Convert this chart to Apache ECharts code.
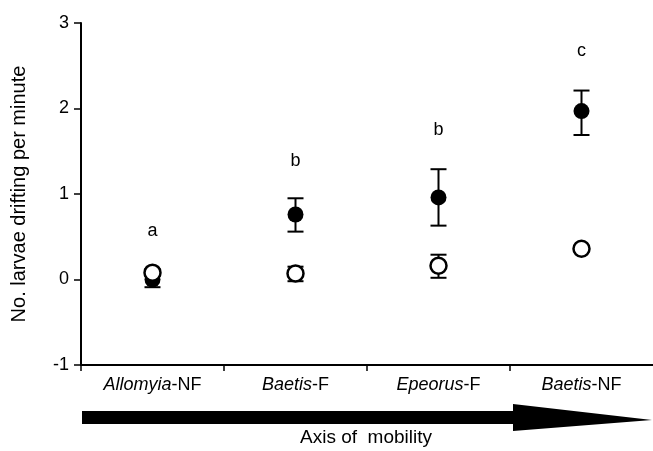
<!DOCTYPE html>
<html>
<head>
<meta charset="utf-8">
<script src="https://cdn.jsdelivr.net/npm/echarts@6/dist/echarts.min.js"></script>
<style>html,body{margin:0;padding:0;background:#fff;}#c{width:653px;height:451px;}</style>
</head>
<body>
<div id="c"></div>
<script>
const categories = ['Allomyia-NF', 'Baetis-F', 'Epeorus-F', 'Baetis-NF'];
const filledMean = [0.0, 0.76, 0.96, 1.97];
const filledLow = [-0.09, 0.56, 0.63, 1.69];
const filledHigh = [0.07, 0.95, 1.29, 2.21];
const openMean = [0.08, 0.07, 0.16, 0.36];
const openLow = [0.04, -0.02, 0.02, 0.33];
const openHigh = [0.12, 0.15, 0.29, 0.39];
const letters = ['a', 'b', 'b', 'c'];
const letterY = [0.57, 1.39, 1.75, 2.67];
const yMin = -1, yMax = 3, yStep = 1;

const FONT = '"Liberation Sans", Arial, sans-serif';
const chart = echarts.init(document.getElementById('c'), null, {renderer: 'canvas'});

function errItem(params, api) {
  const x = api.value(0);
  const p1 = api.coord([x, api.value(1)]);
  const p2 = api.coord([x, api.value(2)]);
  const w = 8;
  const st = {stroke: '#000', lineWidth: 2};
  return {type: 'group', children: [
    {type: 'line', shape: {x1: p1[0], y1: p1[1], x2: p2[0], y2: p2[1]}, style: st},
    {type: 'line', shape: {x1: p1[0] - w, y1: p1[1], x2: p1[0] + w, y2: p1[1]}, style: st},
    {type: 'line', shape: {x1: p2[0] - w, y1: p2[1], x2: p2[0] + w, y2: p2[1]}, style: st}
  ]};
}

const option = {
  animation: false,
  textStyle: {fontFamily: FONT, color: '#000'},
  grid: {left: 81, top: 23, width: 575, height: 342, containLabel: false},
  xAxis: {
    type: 'category', data: categories, boundaryGap: true,
    axisLine: {onZero: false, lineStyle: {color: '#000', width: 2}},
    axisTick: {show: true, length: 6, interval: 0, lineStyle: {color: '#000', width: 1.5}},
    axisLabel: {
      margin: 11, color: '#000',
      formatter: v => { const i = v.indexOf('-'); return '{i|' + v.slice(0, i) + '}{n|' + v.slice(i) + '}'; },
      rich: {
        i: {fontStyle: 'italic', fontSize: 18, fontFamily: FONT, color: '#000'},
        n: {fontSize: 18, fontFamily: FONT, color: '#000'}
      }
    },
    splitLine: {show: false}
  },
  yAxis: {
    type: 'value', min: yMin, max: yMax, interval: yStep,
    name: 'No. larvae drifting per minute', nameLocation: 'middle', nameGap: 52,
    nameTextStyle: {fontSize: 20, fontFamily: FONT, color: '#000'},
    axisLine: {show: true, onZero: false, lineStyle: {color: '#000', width: 2}},
    axisTick: {show: true, length: 7, lineStyle: {color: '#000', width: 1.5}},
    axisLabel: {margin: 12, fontSize: 18, fontFamily: FONT, color: '#000'},
    splitLine: {show: false}
  },
  series: [
    {type: 'custom', renderItem: errItem, data: categories.map((c, i) => [i, filledLow[i], filledHigh[i]]), z: 2},
    {type: 'scatter', data: categories.map((c, i) => [i, filledMean[i]]), symbol: 'circle', symbolSize: 16,
     itemStyle: {color: '#000', opacity: 1}, z: 3},
    {type: 'custom', renderItem: errItem, data: categories.map((c, i) => [i, openLow[i], openHigh[i]]), z: 4},
    {type: 'scatter', data: categories.map((c, i) => [i, openMean[i]]), symbol: 'circle', symbolSize: 16,
     itemStyle: {color: '#fff', borderColor: '#000', borderWidth: 2.5, opacity: 1}, z: 5},
    {type: 'scatter', data: categories.map((c, i) => [i, letterY[i]]), symbolSize: 0, z: 6,
     itemStyle: {color: '#000', opacity: 1},
     label: {show: true, position: 'inside', formatter: p => letters[p.dataIndex], fontSize: 18, fontFamily: FONT,
             color: '#000', opacity: 1, textBorderWidth: 0}}
  ],
  graphic: [
    {type: 'polygon', shape: {points: [[82, 411], [513, 411], [513, 404], [652, 420], [513, 431], [513, 424], [82, 424]]},
     style: {fill: '#000'}},
    {type: 'rect', shape: {x: 648, y: 364, width: 5, height: 10}, style: {fill: '#fff'}, z: 100},
    {type: 'line', shape: {x1: 640, y1: 365, x2: 653, y2: 365}, style: {stroke: '#000', lineWidth: 2}, z: 101},
    {type: 'text', x: 366, y: 438, style: {text: 'Axis of  mobility', font: '19px ' + FONT, fill: '#000', textAlign: 'center', textVerticalAlign: 'middle'}}
  ]
};
chart.setOption(option);
</script>
</body>
</html>
